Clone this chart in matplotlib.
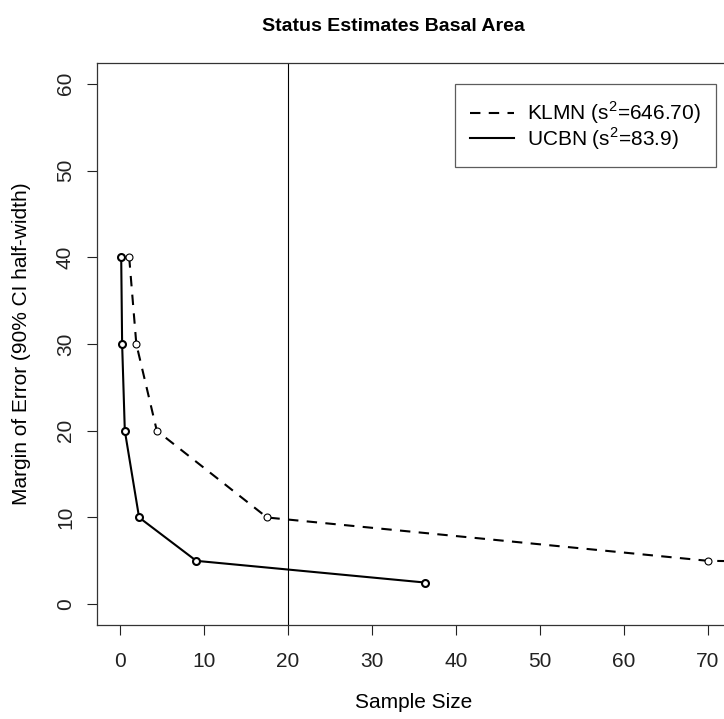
import numpy as np
import matplotlib.pyplot as plt
from matplotlib.lines import Line2D

plt.rcParams['font.family'] = ['Liberation Sans', 'DejaVu Sans']
plt.rcParams['mathtext.fontset'] = 'custom'
plt.rcParams['mathtext.rm'] = 'Liberation Sans'

# margin of error (half-width) and the sample sizes needed for each network
moe = [40, 30, 20, 10, 5, 2.5]
n_klmn = [1.09, 1.94, 4.38, 17.5, 70.0, 280.0]
n_ucbn = [0.14, 0.25, 0.57, 2.27, 9.08, 36.3]
lbl_klmn = r'KLMN (s$^{2}$=646.70)'
lbl_ucbn = r'UCBN (s$^{2}$=83.9)'
n_ref = 20

fig = plt.figure(figsize=(7.24, 7.19), dpi=100)
ax = fig.add_axes([0.1333, 0.1307, 0.8771, 0.7817])

ax.plot(n_klmn, moe, color='black', lw=1.5, dashes=(5, 4), marker='o', ms=5,
        mfc='white', mec='black', mew=0.8)
ax.plot(n_ucbn, moe, color='black', lw=1.5, marker='o', ms=5,
        mfc='white', mec='black', mew=1.5)
ax.axvline(n_ref, color='black', lw=0.8)

ax.set_xlim(-2.8, 72.8)
ax.set_ylim(-2.4, 62.4)
ax.set_xticks(np.arange(0, 71, 10))
ax.set_yticks(np.arange(0, 61, 10))
ax.tick_params(direction='out', length=7.5, width=0.8, labelsize=15, colors='#222222')
ax.tick_params(axis='x', pad=12)
ax.tick_params(axis='y', pad=8)
for lab in ax.get_yticklabels():
    lab.set_rotation(90)
    lab.set_va('center')
for s in ax.spines.values():
    s.set_color('#333333')
    s.set_linewidth(0.9)

ax.set_xlabel('Sample Size', fontsize=15, labelpad=16)
ax.set_ylabel('Margin of Error (90% CI half-width)', fontsize=15, labelpad=18)
fig.suptitle('Status Estimates Basal Area', fontsize=14, fontweight='bold', x=0.543, y=0.975)

# legend shows line types only
handles = [Line2D([], [], color='black', lw=1.5, dashes=(5, 4)),
           Line2D([], [], color='black', lw=1.5)]
leg = ax.legend(handles, [lbl_klmn, lbl_ucbn], loc='upper right',
                bbox_to_anchor=(716 / 724, 1 - 84 / 719), bbox_transform=fig.transFigure,
                borderaxespad=0, fontsize=15, frameon=True, fancybox=False,
                handlelength=2.1, borderpad=0.75, labelspacing=-0.05, handletextpad=0.6)
leg.get_frame().set_edgecolor('#333333')
leg.get_frame().set_linewidth(0.9)

fig.savefig('out.png', dpi=100)
